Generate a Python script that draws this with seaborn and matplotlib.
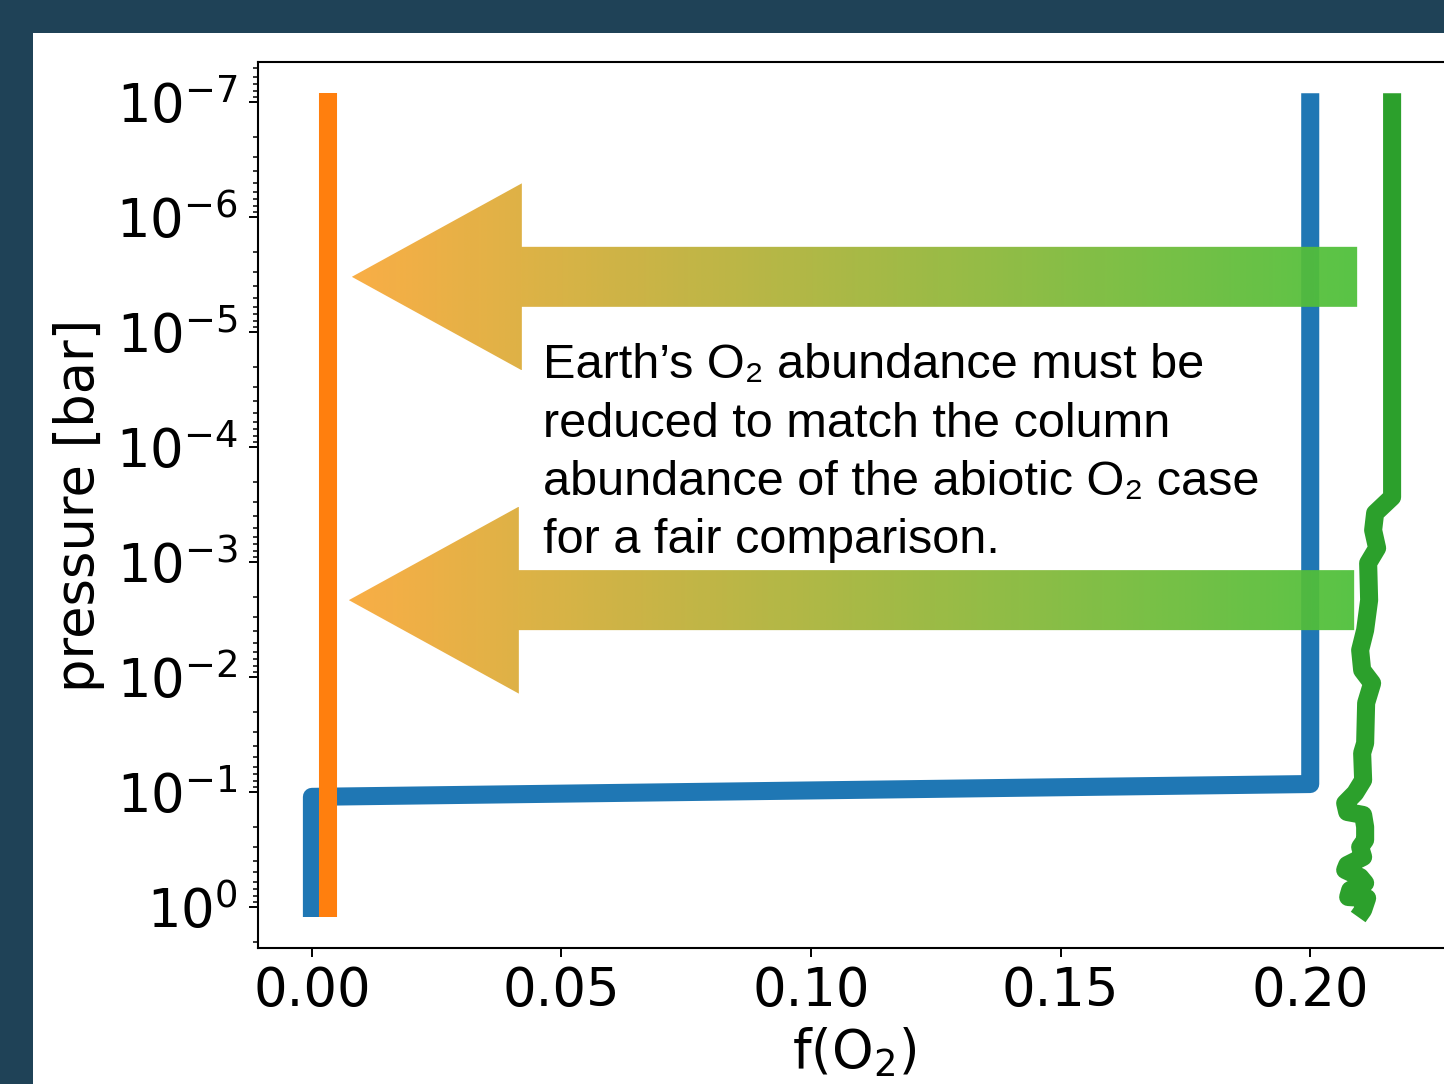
import numpy as np
import pandas as pd
import matplotlib
matplotlib.use("Agg")
import matplotlib.pyplot as plt
import seaborn as sns
from matplotlib.patches import Rectangle, Polygon
from matplotlib.ticker import LogLocator, NullFormatter

# ---------------- data ----------------
# blue: Earth-like O2 profile (f(O2), pressure [bar])
blue_f = [0.0, 0.0, 0.2, 0.2]
blue_p = [1.22, 0.110, 0.0851, 8.35e-8]

# orange: abiotic O2 case
orange_f = [0.0032, 0.0032]
orange_p = [1.22, 8.35e-8]

# green: Earth O2 with wiggly lower atmosphere
green_f = [0.2164, 0.2164, 0.2130, 0.2126, 0.2134, 0.2116, 0.2118, 0.2110,
           0.2100, 0.2104, 0.2124, 0.2112, 0.2110, 0.2104, 0.2106, 0.2090,
           0.2070, 0.2074, 0.2106, 0.2110, 0.2110, 0.2100, 0.2106, 0.2074,
           0.2070, 0.2100, 0.2110, 0.2080, 0.2076, 0.2114, 0.2106, 0.2096]
green_p = [8.35e-8, 2.72e-4, 3.75e-4, 5.27e-4, 7.55e-4, 1.02e-3, 2.14e-3, 3.90e-3,
           5.82e-3, 8.69e-3, 1.13e-2, 1.68e-2, 3.75e-2, 4.58e-2, 7.87e-2, 0.102,
           0.125, 0.149, 0.158, 0.201, 0.261, 0.301, 0.367, 0.431,
           0.476, 0.548, 0.618, 0.711, 0.818, 0.836, 1.06, 1.22]

case_names = ["Earth O2 (blue)", "abiotic O2", "Earth O2 (green)"]
case_colors = ["#1f77b4", "#ff7f0e", "#2ca02c"]

# arrows: (tail f, tip f, pressure level)
arrow_tail_f = [0.2094, 0.2088]
arrow_tip_f = [0.0080, 0.0074]
arrow_p = [3.3e-6, 2.14e-3]

note_text = ("Earth\u2019s O\u2082 abundance must be\n"
             "reduced to match the column\n"
             "abundance of the abiotic O\u2082 case\n"
             "for a fair comparison.")

# ---------------- style ----------------
sns.set_theme(style="ticks")
plt.rcParams["font.family"] = ["DejaVu Sans"]
plt.rcParams["mathtext.fontset"] = "dejavusans"

W, H = 1444, 1084
DPI = 100
fig = plt.figure(figsize=(W / DPI, H / DPI), dpi=DPI)
fig.patch.set_facecolor("#1f4257")
fig.add_artist(Rectangle((33 / W, 0), 1, (H - 33) / H, transform=fig.transFigure,
                         facecolor="white", edgecolor="none", zorder=-10))

ax = fig.add_axes([258 / W, 1 - 948 / H, (1450 - 258) / W, (948 - 62) / H])
ax.set_facecolor("white")

frames = []
for name, fx, py in [(case_names[0], blue_f, blue_p),
                     (case_names[1], orange_f, orange_p),
                     (case_names[2], green_f, green_p)]:
    frames.append(pd.DataFrame({"f": fx, "p": py, "case": name}))
df = pd.concat(frames, ignore_index=True)

for name, col in zip([case_names[0], case_names[2], case_names[1]],
                     [case_colors[0], case_colors[2], case_colors[1]]):
    sub = df[df["case"] == name]
    sns.lineplot(data=sub, x="f", y="p", sort=False, estimator=None, color=col,
                 lw=13, ax=ax, legend=False, solid_capstyle="butt",
                 solid_joinstyle="round")

ax.set_yscale("log")
ax.set_xlim(-0.0108, 0.2280)
ax.set_ylim(2.27, 10 ** -7.35)
ax.set_xticks([0.0, 0.05, 0.10, 0.15, 0.20])
ax.set_xticklabels(["0.00", "0.05", "0.10", "0.15", "0.20"])
ax.yaxis.set_major_locator(LogLocator(base=10, numticks=20))
ax.yaxis.set_minor_locator(LogLocator(base=10, subs=np.arange(2, 10), numticks=200))
ax.yaxis.set_minor_formatter(NullFormatter())

ax.tick_params(axis="both", which="major", labelsize=38, length=6.5, width=1.4,
               direction="out", color="black", labelcolor="black")
ax.tick_params(axis="x", which="major", pad=6)
ax.tick_params(axis="y", which="major", pad=8)
ax.tick_params(axis="y", which="minor", length=3.8, width=1.1, color="black")
for s in ["left", "bottom", "top"]:
    ax.spines[s].set_visible(True)
    ax.spines[s].set_linewidth(1.5)
    ax.spines[s].set_color("black")
ax.spines["right"].set_visible(False)

ax.set_xlabel("f(O$_2$)", fontsize=38, color="black", labelpad=6)
ax.set_ylabel("pressure [bar]", fontsize=38, color="black", labelpad=8)

ax.text(0.0463, 1.25e-5, note_text, ha="left", va="top", fontsize=35,
        family=["Liberation Sans", "DejaVu Sans"], color="black",
        linespacing=1.38, zorder=6)

# ---------------- gradient arrows on overlay ----------------
fig.canvas.draw()
ov = fig.add_axes([0, 0, 1, 1], zorder=5)
ov.set_xlim(0, W)
ov.set_ylim(0, H)
ov.axis("off")
ov.patch.set_alpha(0)

c_left = np.array([249, 168, 56]) / 255
c_right = np.array([76, 192, 56]) / 255
n = 256
grad = np.linspace(0, 1, n)[None, :, None]
img = c_left[None, None, :] * (1 - grad) + c_right[None, None, :] * grad

shaft_half = 30
head_half = 93.5
head_len = 170
for tf, hf, p in zip(arrow_tail_f, arrow_tip_f, arrow_p):
    tail = ax.transData.transform((tf, p))
    tip = ax.transData.transform((hf, p))
    xc = tail[1]
    xt, xh = tail[0], tip[0]
    xb = xh + head_len
    verts = [(xh, xc), (xb, xc + head_half), (xb, xc + shaft_half),
             (xt, xc + shaft_half), (xt, xc - shaft_half), (xb, xc - shaft_half),
             (xb, xc - head_half)]
    poly = Polygon(verts, closed=True, facecolor="none", edgecolor="none")
    ov.add_patch(poly)
    im = ov.imshow(img, extent=(xh, xt, xc - head_half, xc + head_half),
                   aspect="auto", interpolation="bilinear", alpha=0.93, zorder=5)
    im.set_clip_path(poly)

ov.set_xlim(0, W)
ov.set_ylim(0, H)

fig.savefig("out.png", dpi=DPI, facecolor=fig.get_facecolor())
